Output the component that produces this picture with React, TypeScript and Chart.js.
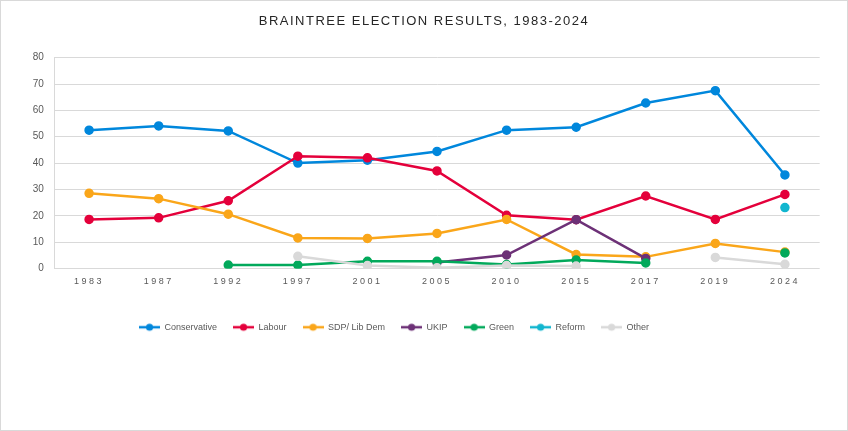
import { useEffect, useRef } from 'react'
import { Chart, ChartConfiguration, Plugin } from 'chart.js/auto'

const years = ['1983', '1987', '1992', '1997', '2001', '2005', '2010', '2015', '2017', '2019', '2024']

const conservative = [52.5, 54.1, 52.2, 40.0, 41.1, 44.4, 52.5, 53.6, 62.8, 67.5, 35.5]
const labour = [18.6, 19.2, 25.7, 42.6, 42.0, 37.0, 20.2, 18.5, 27.5, 18.6, 28.1]
const libDem = [28.5, 26.5, 20.6, 11.6, 11.4, 13.3, 18.6, 5.3, 4.4, 9.5, 6.2]
const ukip = [null, null, null, null, null, 2.3, 5.1, 18.5, 3.8, null, null]
const green = [null, null, 1.3, 1.3, 2.7, 2.7, 1.5, 3.2, 2.1, null, 5.9]
const reform = [null, null, null, null, null, null, null, null, null, null, 23.1]
const other = [null, null, null, 4.6, 1.1, 0.3, 1.1, 0.9, null, 4.2, 1.6]

const seriesNames = ['Conservative', 'Labour', 'SDP/ Lib Dem', 'UKIP', 'Green', 'Reform', 'Other']
const seriesColors = ['#0087DC', '#E4003B', '#FAA61A', '#6D3177', '#02A95B', '#12B6CF', '#D9D9D9']
const seriesValues = [conservative, labour, libDem, ukip, green, reform, other]

const yTicks = [0, 10, 20, 30, 40, 50, 60, 70, 80]

const FONT = "'Liberation Sans', Arial, sans-serif"
const PAD_RIGHT = 27.3

// little "line with a dot" marker like the Excel legend
function legendGlyph(color: string) {
  const c = document.createElement('canvas')
  c.width = 21
  c.height = 10
  const g = c.getContext('2d')
  if (g) {
    g.strokeStyle = color
    g.lineWidth = 2.5
    g.beginPath()
    g.moveTo(0, 5)
    g.lineTo(21, 5)
    g.stroke()
    g.fillStyle = color
    g.beginPath()
    g.arc(10.5, 5, 3.6, 0, Math.PI * 2)
    g.fill()
  }
  return c
}

const spacingPlugin: Plugin = {
  id: 'letterSpacing',
  afterLayout(chart: any) {
    // full-size boxes stop at the right padding; re-centre them
    if (chart.titleBlock) chart.titleBlock.right += PAD_RIGHT
    if (chart.legend) chart.legend.right -= 32.6
  },
  beforeDraw(chart: any) {
    const x = chart.scales.x
    if (x && !x.__spaced) {
      const orig = x.drawLabels
      x.drawLabels = function (area: any) {
        const ctx = this.ctx
        ctx.save()
        ctx.letterSpacing = '2.5px'
        orig.call(this, area)
        ctx.restore()
      }
      x.__spaced = true
    }
    const t = chart.titleBlock
    if (t && !t.__spaced) {
      const origT = t.draw
      t.draw = function (area: any) {
        const ctx = this.ctx
        ctx.save()
        ctx.letterSpacing = '1.5px'
        origT.call(this, area)
        ctx.restore()
      }
      t.__spaced = true
    }
  },
}

function ElectionChart() {
  const chartRef = useRef<HTMLCanvasElement>(null)
  const chartInstance = useRef<Chart | null>(null)

  useEffect(() => {
    if (!chartRef.current) return
    const ctx = chartRef.current.getContext('2d')
    if (!ctx) return

    if (chartInstance.current) {
      chartInstance.current.destroy()
    }

    const config: ChartConfiguration = {
      type: 'line',
      data: {
        labels: years,
        datasets: seriesNames.map((name, i) => ({
          label: name,
          data: seriesValues[i],
          borderColor: seriesColors[i],
          backgroundColor: seriesColors[i],
          pointBackgroundColor: seriesColors[i],
          pointBorderColor: seriesColors[i],
          borderWidth: 2.5,
          pointRadius: 4,
          pointBorderWidth: 1.5,
          tension: 0,
          // later series sit on top, as in the original
          order: seriesNames.length - i,
        })),
      },
      options: {
        responsive: true,
        maintainAspectRatio: false,
        animation: false,
        events: [],
        layout: {
          padding: { left: 0, right: PAD_RIGHT, top: 0, bottom: 88.25 },
        },
        scales: {
          x: {
            offset: true,
            grid: { display: false, drawTicks: false },
            border: { display: false },
            ticks: {
              color: '#595959',
              font: { size: 9, family: FONT },
              padding: 8,
              maxRotation: 0,
              autoSkip: false,
            },
            afterFit: (scale) => {
              scale.height += 11.5
            },
          },
          y: {
            min: 0,
            max: 80,
            afterBuildTicks: (scale) => {
              scale.ticks = yTicks.map((v) => ({ value: v }))
            },
            grid: { color: '#D9D9D9', lineWidth: 1, drawTicks: false },
            border: { display: true, color: '#D9D9D9', width: 1 },
            ticks: {
              color: '#595959',
              font: { size: 10, family: FONT },
              padding: 10.5,
            },
            afterFit: (scale) => {
              scale.width = 53.3
            },
          },
        },
        plugins: {
          title: {
            display: true,
            text: 'BRAINTREE ELECTION RESULTS, 1983-2024',
            color: '#262626',
            font: { size: 13, family: FONT, weight: 'normal' },
            padding: { top: 12.7, bottom: 28.4 },
          },
          legend: {
            position: 'bottom',
            labels: {
              usePointStyle: true,
              pointStyleWidth: 21,
              padding: 16,
              color: '#595959',
              font: { size: 9, family: FONT },
              generateLabels: (chart) => {
                const items = Chart.defaults.plugins.legend.labels.generateLabels(chart)
                return items.map((it) => ({
                  ...it,
                  pointStyle: legendGlyph(seriesColors[it.datasetIndex ?? 0]),
                }))
              },
              sort: (a, b) => (a.datasetIndex ?? 0) - (b.datasetIndex ?? 0),
            },
          },
          tooltip: { enabled: false },
        },
      },
      plugins: [spacingPlugin],
    }

    chartInstance.current = new Chart(ctx, config)

    return () => {
      if (chartInstance.current) {
        chartInstance.current.destroy()
        chartInstance.current = null
      }
    }
  }, [])

  return <canvas ref={chartRef} />
}

export default function App() {
  return (
    <div
      style={{
        position: 'absolute',
        left: 0,
        top: 0,
        width: 848,
        height: 431,
        boxSizing: 'border-box',
        border: '1px solid #D9D9D9',
        background: '#fff',
      }}
    >
      <div style={{ position: 'relative', width: '100%', height: '100%' }}>
        <ElectionChart />
      </div>
    </div>
  )
}
